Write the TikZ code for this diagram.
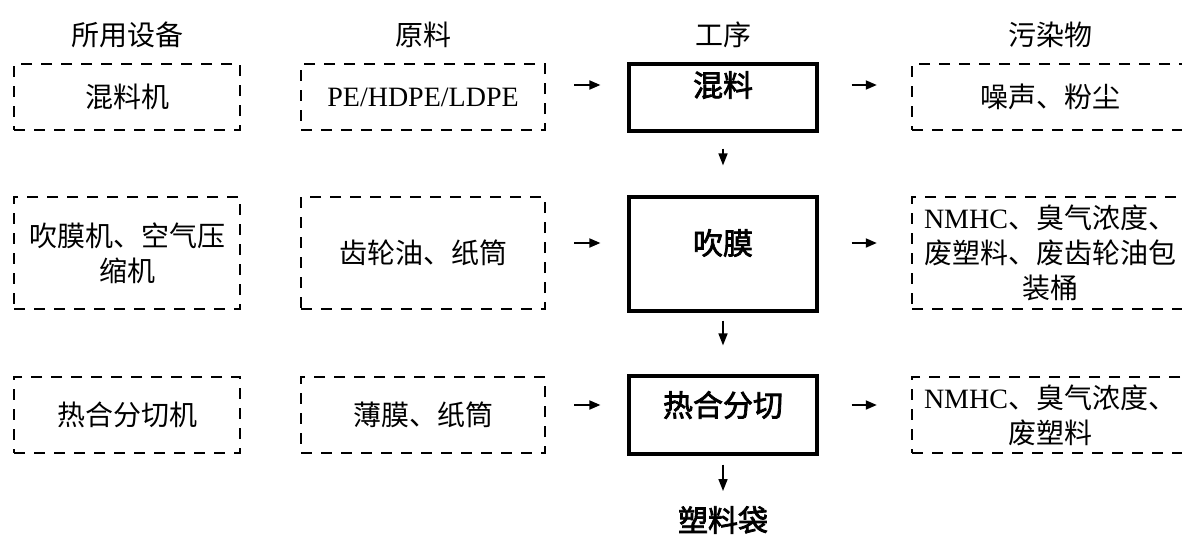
\documentclass[tikz,border=0pt]{standalone}
\usepackage{fontspec}
\setmainfont{Liberation Serif}
\newfontfamily\cjk{Noto Sans CJK SC}
\newfontfamily\cjkb[FakeBold=2.5]{Noto Sans CJK SC}
\usetikzlibrary{arrows.meta,calc}
\tikzset{
  txt/.style={font=\cjk\fontsize{28}{35}\selectfont, align=center, inner sep=0pt},
  dbox/.style={draw, dash pattern=on 11pt off 9pt, line width=2.4pt, txt},
  pbox/.style={draw, line width=3.2pt, minimum width=188pt, inner sep=0pt},
  ptxt/.style={font=\cjkb\fontsize{30}{36}\selectfont, inner sep=0pt},
  harr/.style={-{Triangle[length=11pt,width=9pt]}, line width=1.8pt},
  varr/.style={-{Triangle[length=12pt,width=9pt]}, line width=1.6pt},
}
\begin{document}
\begin{tikzpicture}[x=1pt,y=-1pt]
\useasboundingbox (0,0) rectangle (1182,552);
% headers
\node[txt] (h1) at (127,35) {所用设备};
\node[txt] (h2) at (423,35) {原料};
\node[txt] (h3) at (723,35) {工序};
\node[txt] (h4) at (1050,35) {污染物};
% row 1
\node[dbox, minimum width=226pt, minimum height=66pt] (e1) at (127,97) {混料机};
\node[dbox, minimum width=244pt, minimum height=66pt] (m1) at (423,97) {\rmfamily PE/HDPE/LDPE};
\node[pbox, minimum height=67pt] (p1) at (723,97.5) {};
\node[ptxt] (t1) at (723,85) {混料};
\node[dbox, minimum width=276pt, minimum height=66pt] (o1) at (1050,97) {噪声、粉尘};
% row 2
\node[dbox, minimum width=226pt, minimum height=112pt] (e2) at (127,253) {吹膜机、空气压\\缩机};
\node[dbox, minimum width=244pt, minimum height=112pt] (m2) at (423,253) {齿轮油、纸筒};
\node[pbox, minimum height=114pt] (p2) at (723,254) {};
\node[ptxt] (t2) at (723,243) {吹膜};
\node[dbox, minimum width=276pt, minimum height=112pt] (o2) at (1050,253) {{\rmfamily NMHC}、臭气浓度、\\废塑料、废齿轮油包\\装桶};
% row 3
\node[dbox, minimum width=226pt, minimum height=76pt] (e3) at (127,415) {热合分切机};
\node[dbox, minimum width=244pt, minimum height=76pt] (m3) at (423,415) {薄膜、纸筒};
\node[pbox, minimum height=78pt] (p3) at (723,415) {};
\node[ptxt] (t3) at (723,405) {热合分切};
\node[dbox, minimum width=276pt, minimum height=76pt] (o3) at (1050,415) {{\rmfamily NMHC}、臭气浓度、\\废塑料};
% product
\node[ptxt] (prod) at (723,520) {塑料袋};
% horizontal arrows
\draw[harr, shorten <=28pt, shorten >=27pt] (m1.east |- t1) -- (p1.west |- t1);
\draw[harr, shorten <=33pt, shorten >=34pt] (p1.east |- t1) -- (o1.west |- t1);
\draw[harr, shorten <=28pt, shorten >=27pt] (m2.east |- t2) -- (p2.west |- t2);
\draw[harr, shorten <=33pt, shorten >=34pt] (p2.east |- t2) -- (o2.west |- t2);
\draw[harr, shorten <=28pt, shorten >=27pt] (m3.east |- t3) -- (p3.west |- t3);
\draw[harr, shorten <=33pt, shorten >=34pt] (p3.east |- t3) -- (o3.west |- t3);
% vertical arrows
\draw[varr, shorten <=16pt, shorten >=30pt] (p1.south) -- (p2.north);
\draw[varr, shorten <=8pt, shorten >=29pt] (p2.south) -- (p3.north);
\draw[varr, shorten <=9pt, shorten >=15pt] (p3.south) -- (prod.north);
\end{tikzpicture}
\end{document}
